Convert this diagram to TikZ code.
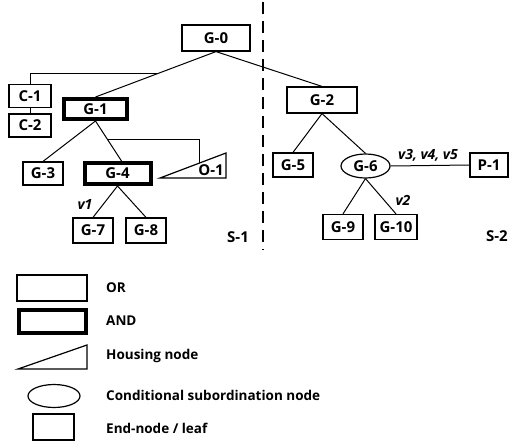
\documentclass[tikz,border=0pt]{standalone}
\usepackage{fontspec}
\setmainfont{Open Sans}
\usetikzlibrary{shapes.geometric,calc}

\tikzset{
  lbl/.style={font=\fontsize{15}{17}\selectfont\bfseries},
  box/.style={draw, line width=1.2pt, inner sep=0pt, lbl},
  andbox/.style={box, line width=4pt},
  condnode/.style={draw, ellipse, line width=1.2pt, inner sep=0pt, lbl},
  link/.style={line width=1pt},
  vlab/.style={font=\fontsize{14}{16}\selectfont\bfseries\itshape, inner sep=0pt},
  legtext/.style={font=\fontsize{13.5}{15}\selectfont\bfseries, anchor=west, inner sep=0pt},
  sep/.style={line width=1.1pt, dash pattern=on 12pt off 7pt}
}

\begin{document}
\begin{tikzpicture}[x=1pt, y=-1pt]
  \useasboundingbox (0,0) rectangle (509,442);

  % ---- sub-tree S-1 ----
  \node[box, minimum width=68pt, minimum height=26pt] (G0) at (216,38) {G-0};
  \node[box, minimum width=42pt, minimum height=23pt] (C1) at (30,96) {C-1};
  \node[box, minimum width=42pt, minimum height=23pt] (C2) at (30,125.5) {C-2};
  \node[andbox, minimum width=63pt, minimum height=20pt] (G1) at (95.5,109) {G-1};
  \node[box, minimum width=40pt, minimum height=23pt] (G3) at (43,173.5) {G-3};
  \node[andbox, minimum width=66pt, minimum height=21pt] (G4) at (117.5,173.5) {G-4};
  \node[box, minimum width=40pt, minimum height=25pt] (G7) at (93,230.5) {G-7};
  \node[box, minimum width=40pt, minimum height=25pt] (G8) at (146,230.5) {G-8};

  % housing node O-1
  \coordinate (O1a) at (160,178);
  \coordinate (O1b) at (226,178);
  \coordinate (O1c) at (226,153);
  \draw[line width=1.2pt, line join=miter] (O1a) -- (O1b) -- (O1c) -- cycle;
  \node[lbl, inner sep=0pt] (O1) at (211,170) {O-1};
  \coordinate (O1top) at (199,163.2);

  \node[lbl] (S1) at (238,237) {S-1};

  % connectors of S-1
  \draw[link] (G0.south) -- (G1.north);
  \coordinate (J0) at ($(G0.south)!0.48!(G1.north)$);
  \draw[link] (J0) -| (C1.north);
  \draw[link] (C1.south) -- (C2.north);
  \draw[link] (G1.south) -- (G3.north);
  \draw[link] (G1.south) -- ($(G4.north)+(4,0)$);
  \coordinate (J1) at ($(G1.south)!0.45!($(G4.north)+(4,0)$)$);
  \draw[link] (J1) -| (O1top);
  \draw[link] (G4.south) -- (G7.north);
  \draw[link] (G4.south) -- (G8.north);
  \node[vlab] (v1) at (85,205) {v1};

  % separator between the two sub-trees
  \coordinate (sepTop) at (263,2);
  \coordinate (sepBot) at (263,250);
  \draw[sep] (sepTop) -- (sepBot);

  % ---- sub-tree S-2 ----
  \node[box, minimum width=70pt, minimum height=26pt] (G2) at (322,100) {G-2};
  \node[box, minimum width=40pt, minimum height=24pt] (G5) at (293,165) {G-5};
  \node[condnode, minimum width=49pt, minimum height=24pt] (G6) at (365.5,166) {G-6};
  \node[box, minimum width=38pt, minimum height=24pt] (P1) at (489,165) {P-1};
  \node[box, minimum width=40pt, minimum height=25pt] (G9) at (343,227) {G-9};
  \node[box, minimum width=42pt, minimum height=25pt] (G10) at (396,227) {G-10};
  \node[lbl, anchor=east, inner sep=0pt] (S2) at (508,236) {S-2};

  \draw[link] (G0.south) -- (G2.north);
  \draw[link] (G2.south) -- (G5.north);
  \draw[link] (G2.south) -- (G6.north);
  \draw[link] (G6.east) -- (P1.west);
  \draw[link] (G6.south) -- (G9.north);
  \draw[link] (G6.south) -- (G10.north);
  \node[vlab] (v345) at (428,155) {v3, v4, v5};
  \node[vlab] (v2) at (403,200) {v2};

  % ---- legend ----
  \node[box, minimum width=70pt, minimum height=26pt] (LOR) at (52,288) {};
  \node[legtext] (tOR) at (106,288) {OR};
  \node[andbox, minimum width=67pt, minimum height=23pt] (LAND) at (52,321) {};
  \node[legtext] (tAND) at (106,321) {AND};
  \coordinate (LHa) at (18,369);
  \coordinate (LHb) at (87,369);
  \coordinate (LHc) at (87,345);
  \draw[line width=1.2pt] (LHa) -- (LHb) -- (LHc) -- cycle;
  \node[legtext] (tHouse) at (106,356) {Housing node};
  \node[condnode, minimum width=52pt, minimum height=23pt] (LCond) at (54,396) {};
  \node[legtext] (tCond) at (106,395) {Conditional subordination node};
  \node[box, minimum width=41pt, minimum height=26pt] (LEnd) at (53.5,427) {};
  \node[legtext] (tEnd) at (106,428) {End-node / leaf};
\end{tikzpicture}
\end{document}
